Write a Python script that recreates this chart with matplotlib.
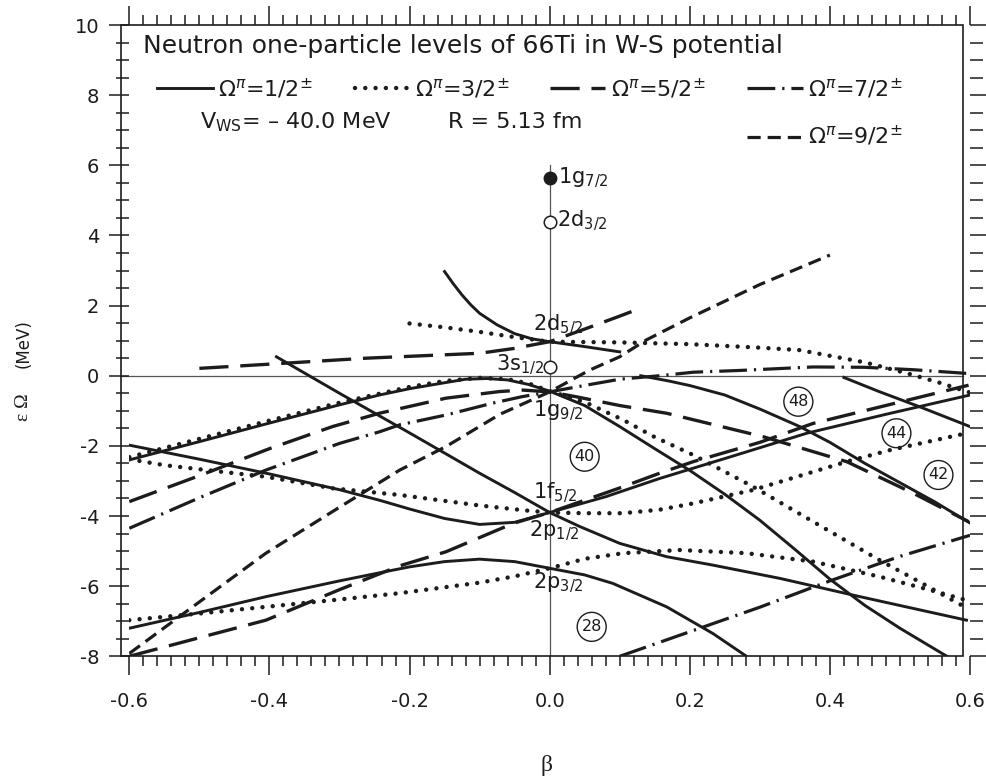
import matplotlib
matplotlib.use("Agg")
import matplotlib.pyplot as plt
from matplotlib.lines import Line2D
from matplotlib.patches import Rectangle
from matplotlib.ticker import MultipleLocator

# ---- levels (beta, energy in MeV) ----
# Omega = 1/2 (solid)
beta_s1 = [-0.15, -0.1375, -0.125, -0.1125, -0.1, -0.075, -0.05, -0.025, 0.0, 0.05, 0.1]
eps_s1 = [2.97, 2.62, 2.3, 2.02, 1.78, 1.45, 1.2, 1.05, 0.97, 0.83, 0.68]

beta_s2 = [-0.6, -0.5, -0.4, -0.3, -0.243, -0.2, -0.15, -0.12, -0.09, -0.06, -0.03, 0.0,
           0.05, 0.1, 0.15, 0.2, 0.25, 0.3, 0.35, 0.4, 0.45, 0.5, 0.567]
eps_s2 = [-2.4, -1.88, -1.35, -0.83, -0.55, -0.37, -0.2, -0.1, -0.08, -0.12, -0.25, -0.44,
          -0.85, -1.45, -2.08, -2.7, -3.38, -4.12, -4.95, -5.8, -6.55, -7.2, -8.0]

beta_s3 = [0.13, 0.17, 0.2, 0.25, 0.3, 0.357, 0.4, 0.45, 0.5, 0.55, 0.6]
eps_s3 = [0.0, -0.15, -0.28, -0.55, -0.95, -1.45, -1.9, -2.5, -3.05, -3.6, -4.2]

beta_s4 = [0.42, 0.47, 0.53, 0.6]
eps_s4 = [-0.05, -0.45, -0.9, -1.45]

beta_s5 = [-0.6, -0.5, -0.4, -0.3, -0.243, -0.2, -0.15, -0.1, -0.05, 0.0,
           0.08, 0.157, 0.26, 0.367, 0.48, 0.6]
eps_s5 = [-1.98, -2.38, -2.8, -3.25, -3.55, -3.8, -4.07, -4.24, -4.18, -3.9,
          -3.45, -2.93, -2.3, -1.64, -1.1, -0.55]

beta_s6 = [-0.39, -0.3, -0.2, -0.1, -0.05, 0.0, 0.043, 0.1, 0.167, 0.233, 0.329, 0.443, 0.595]
eps_s6 = [0.54, -0.5, -1.63, -2.78, -3.33, -3.9, -4.3, -4.78, -5.16, -5.4, -5.78, -6.3, -6.97]

beta_s7 = [-0.6, -0.5, -0.405, -0.3, -0.243, -0.2, -0.15, -0.1, -0.05, 0.0,
           0.05, 0.09, 0.167, 0.233, 0.281]
eps_s7 = [-7.2, -6.75, -6.3, -5.85, -5.62, -5.45, -5.3, -5.23, -5.3, -5.49,
          -5.68, -5.92, -6.59, -7.35, -8.0]

# Omega = 3/2 (dotted)
beta_d1 = [-0.2, -0.15, -0.1, -0.05, 0.0, 0.1, 0.2, 0.3, 0.357, 0.45, 0.51, 0.555, 0.6]
eps_d1 = [1.49, 1.38, 1.25, 1.1, 0.97, 0.95, 0.9, 0.8, 0.73, 0.38, 0.07, -0.19, -0.48]

beta_d2 = [-0.6, -0.5, -0.4, -0.3, -0.2, -0.15, -0.1, -0.06, -0.03, 0.0, 0.05, 0.105,
           0.15, 0.205, 0.29, 0.376, 0.471, 0.53, 0.595]
eps_d2 = [-2.32, -1.8, -1.28, -0.77, -0.32, -0.15, -0.06, -0.1, -0.22, -0.44, -0.75, -1.26,
          -1.75, -2.26, -3.16, -4.16, -5.26, -5.9, -6.62]

beta_d3 = [-0.6, -0.55, -0.49, -0.405, -0.31, -0.214, -0.1, -0.03, 0.0, 0.05, 0.105,
           0.157, 0.205, 0.29, 0.376, 0.424, 0.486, 0.595]
eps_d3 = [-2.38, -2.55, -2.69, -2.88, -3.21, -3.4, -3.7, -3.85, -3.9, -3.92, -3.92,
          -3.82, -3.64, -3.26, -2.74, -2.45, -2.12, -1.64]

beta_d4 = [-0.6, -0.5, -0.405, -0.3, -0.214, -0.1, -0.05, 0.0, 0.05, 0.105, 0.186,
           0.281, 0.376, 0.471, 0.543, 0.595]
eps_d4 = [-6.97, -6.78, -6.59, -6.38, -6.2, -5.9, -5.72, -5.49, -5.22, -5.06, -4.97,
          -5.06, -5.3, -5.73, -6.11, -6.4]

# Omega = 5/2 (long dashes)
beta_l1 = [-0.5, -0.4, -0.262, -0.1, -0.05, -0.024, 0.0, 0.05, 0.1, 0.129]
eps_l1 = [0.21, 0.33, 0.5, 0.64, 0.78, 0.88, 0.97, 1.33, 1.7, 1.92]

beta_l2 = [-0.6, -0.5, -0.4, -0.31, -0.243, -0.148, -0.071, -0.038, 0.0, 0.038, 0.1,
           0.167, 0.305, 0.424, 0.519, 0.598]
eps_l2 = [-3.59, -2.85, -2.08, -1.45, -1.07, -0.64, -0.45, -0.41, -0.46, -0.6, -0.85,
          -1.07, -1.74, -2.45, -3.35, -4.16]

beta_l3 = [-0.6, -0.5, -0.405, -0.3, -0.243, -0.214, -0.148, -0.052, 0.0, 0.05, 0.1,
           0.157, 0.205, 0.3, 0.376, 0.5, 0.598]
eps_l3 = [-8.0, -7.47, -6.97, -6.1, -5.65, -5.42, -5.02, -4.21, -3.9, -3.55, -3.2,
          -2.78, -2.45, -1.9, -1.36, -0.75, -0.27]

# Omega = 7/2 (dash-dot)
beta_c1 = [-0.6, -0.5, -0.405, -0.3, -0.243, -0.214, -0.148, -0.081, -0.04, 0.0, 0.052,
           0.1, 0.157, 0.205, 0.271, 0.376, 0.45, 0.52, 0.6]
eps_c1 = [-4.35, -3.48, -2.69, -1.93, -1.6, -1.4, -1.12, -0.78, -0.6, -0.46, -0.27,
          -0.1, 0.0, 0.1, 0.15, 0.25, 0.24, 0.17, 0.06]

beta_c2 = [0.1, 0.2, 0.3, 0.4, 0.5, 0.6]
eps_c2 = [-8.0, -7.3, -6.6, -5.85, -5.15, -4.55]

# Omega = 9/2 (short dashes)
beta_h1 = [-0.6, -0.5, -0.405, -0.3, -0.214, -0.148, -0.071, 0.0, 0.057, 0.1, 0.138,
           0.2, 0.3, 0.4]
eps_h1 = [-7.92, -6.45, -5.06, -3.75, -2.69, -2.02, -1.1, -0.46, 0.16, 0.54, 1.02,
          1.65, 2.6, 3.44]

# spherical levels at beta = 0
shell_names = ["1g$_{7/2}$", "2d$_{3/2}$", "2d$_{5/2}$", "3s$_{1/2}$",
               "1g$_{9/2}$", "1f$_{5/2}$", "2p$_{1/2}$", "2p$_{3/2}$"]
shell_label_beta = [0.012, 0.011, -0.024, -0.076, -0.024, -0.024, -0.029, -0.024]
shell_label_eps = [5.49, 4.25, 1.30, 0.16, -1.17, -3.49, -4.59, -6.05]
filled_eps = [5.65]
open_eps = [4.39, 0.26]

# magic numbers in circles
magic_labels = ["48", "40", "44", "42", "28"]
magic_beta = [0.355, 0.05, 0.495, 0.555, 0.06]
magic_eps = [-0.74, -2.31, -1.64, -2.83, -7.16]

omega_labels = ["1/2", "3/2", "5/2", "7/2", "9/2"]

curves = [
    ("1/2", beta_s1, eps_s1), ("1/2", beta_s2, eps_s2), ("1/2", beta_s3, eps_s3),
    ("1/2", beta_s4, eps_s4), ("1/2", beta_s5, eps_s5), ("1/2", beta_s6, eps_s6),
    ("1/2", beta_s7, eps_s7),
    ("3/2", beta_d1, eps_d1), ("3/2", beta_d2, eps_d2), ("3/2", beta_d3, eps_d3),
    ("3/2", beta_d4, eps_d4),
    ("5/2", beta_l1, eps_l1), ("5/2", beta_l2, eps_l2), ("5/2", beta_l3, eps_l3),
    ("7/2", beta_c1, eps_c1), ("7/2", beta_c2, eps_c2),
    ("9/2", beta_h1, eps_h1),
]

plt.rcParams["font.family"] = ["DejaVu Sans"]
plt.rcParams["mathtext.fontset"] = "dejavusans"
plt.rcParams["axes.unicode_minus"] = False
plt.rcParams["lines.scale_dashes"] = False

INK = "#1c1c1c"
W, H = 987, 784

STYLES = {
    "1/2": dict(linestyle="-", linewidth=2.1, solid_joinstyle="round"),
    "3/2": dict(linestyle=(0, (0.01, 7.4)), linewidth=3.2, dash_capstyle="round"),
    "5/2": dict(linestyle=(0, (21, 8.5)), linewidth=2.4),
    "7/2": dict(linestyle=(0, (20, 5.0, 1.6, 5.0)), linewidth=2.3),
    "9/2": dict(linestyle=(0, (9.5, 5.0)), linewidth=2.3),
}


def fx(px):
    return px / W


def fy(py):
    return 1 - py / H


fig = plt.figure(figsize=(W / 100, H / 100), dpi=100)
ax = fig.add_axes([fx(129.3), fy(656.3), (970 - 129.3) / W, (656.3 - 25) / H])
ax.set_xlim(-0.6, 0.6)
ax.set_ylim(-8, 10)

for s in ax.spines.values():
    s.set_visible(False)

ax.xaxis.set_minor_locator(MultipleLocator(0.02))
ax.yaxis.set_major_locator(MultipleLocator(2))
ax.yaxis.set_minor_locator(MultipleLocator(0.5))
ax.set_xticks([-0.6, -0.4, -0.2, 0.0, 0.2, 0.4, 0.6])
ax.set_xticklabels(["-0.6", "-0.4", "-0.2", "0.0", "0.2", "0.4", "0.6"])
ax.tick_params(which="both", direction="out", top=True, right=True,
               labeltop=False, labelright=False, width=1.1, color=INK,
               labelsize=14, labelcolor=INK)
ax.tick_params(axis="x", which="major", length=14, pad=12)
ax.tick_params(axis="x", which="minor", length=7.5)
ax.tick_params(axis="y", which="major", length=14.5, pad=7)
ax.tick_params(axis="y", which="minor", length=9.5)

# frame box, drawn a few pixels left of the tick frame as in the original
box_left = -0.6114
box_right = 0.5904
ax.add_patch(Rectangle((box_left, -8), box_right - box_left, 18, fill=False,
                       edgecolor=INK, linewidth=1.2, clip_on=False, zorder=6))

# reference lines at eps = 0 and beta = 0
ax.plot([box_left, box_right], [0, 0], color="#555555", lw=0.9, clip_on=False, zorder=1)
ax.plot([0, 0], [6.0, -8], color="#555555", lw=0.9, zorder=1)

for omega, b, e in curves:
    ax.plot(b, e, color=INK, zorder=3, **STYLES[omega])

ax.plot([0] * len(filled_eps), filled_eps, "o", ms=9, color=INK, zorder=4)
ax.plot([0] * len(open_eps), open_eps, "o", ms=9, mfc="white", mec=INK, mew=1.1, zorder=4)

for name, b, e in zip(shell_names, shell_label_beta, shell_label_eps):
    ax.text(b, e, name, fontsize=15, color=INK, ha="left", va="baseline", zorder=5)

for lab, b, e in zip(magic_labels, magic_beta, magic_eps):
    ax.text(b, e, lab, fontsize=11.5, color=INK, ha="center", va="center", zorder=5,
            bbox=dict(boxstyle="circle,pad=0.27", fc="none", ec=INK, lw=1.0))

# title and legend block
fig.text(fx(143), fy(53), "Neutron one-particle levels of 66Ti in W-S potential",
         fontsize=18, color=INK, ha="left", va="baseline")

legend_pos = [(157, 213, 218, 88, 97), (355, 412, 415, 88, 97), (550, 605, 611, 88, 97),
              (747, 803, 808, 88, 97), (747, 803, 808, 136.7, 143.3)]
for omega, (x0, x1, xt, yl, yt) in zip(omega_labels, legend_pos):
    fig.add_artist(Line2D([fx(x0), fx(x1)], [fy(yl), fy(yl)], color=INK,
                          transform=fig.transFigure, **STYLES[omega]))
    fig.text(fx(xt), fy(yt), "Ω$^{\\pi}$=" + omega + "$^{\\pm}$", fontsize=16,
             color=INK, ha="left", va="baseline")

fig.text(fx(200), fy(128.3), "V$_{\\mathrm{WS}}$= – 40.0 MeV", fontsize=16,
         color=INK, ha="left", va="baseline")
fig.text(fx(448), fy(128.3), "R = 5.13 fm", fontsize=16, color=INK,
         ha="left", va="baseline")

# axis labels
fig.text(fx(546), fy(765), "β", fontsize=17, family=["Liberation Serif", "DejaVu Serif"],
         color=INK, ha="center", va="center")
fig.text(fx(24), fy(407), "ε Ω", fontsize=14, family=["Liberation Serif", "DejaVu Serif"],
         color=INK, ha="center", va="center", rotation=90)
fig.text(fx(24), fy(344), "(MeV)", fontsize=12, color=INK, ha="center",
         va="center", rotation=90)

fig.savefig("out.png", dpi=100)
